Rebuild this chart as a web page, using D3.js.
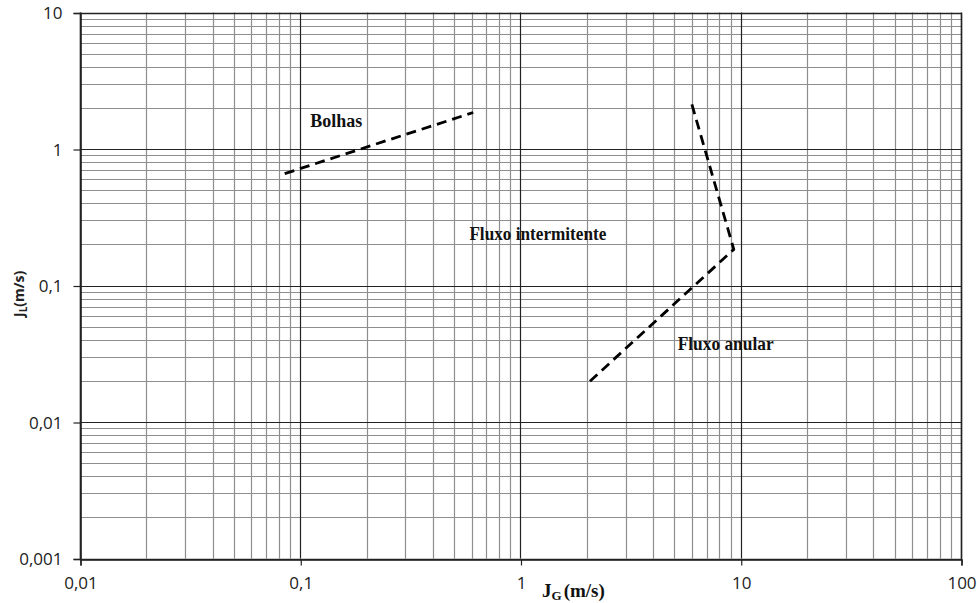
<!DOCTYPE html>
<html>
<head>
<meta charset="utf-8">
<script src="https://cdn.jsdelivr.net/npm/d3@7"></script>
<style>
  body { margin: 0; background: #fff; }
  .tick-label { font-family: "Open Sans", sans-serif; font-size: 17px; fill: #222; }
  .region { font-family: "Liberation Serif", serif; font-weight: bold; font-size: 18px; fill: #111; }
</style>
</head>
<body>
<div id="main-frame"></div>
<script>
const xTicks = [0.01, 0.1, 1, 10, 100];
const xTickLabels = ["0,01", "0,1", "1", "10", "100"];
const yTicks = [0.001, 0.01, 0.1, 1, 10];
const yTickLabels = ["0,001", "0,01", "0,1", "1", "10"];

// fronteira bolhas / intermitente
const bolhasJG = [0.085, 0.61];
const bolhasJL = [0.66, 1.85];

// fronteira intermitente / anular
const anularJG = [6.0, 9.3, 2.04];
const anularJL = [2.12, 0.184, 0.0195];

const regionNames = ["Bolhas", "Fluxo intermitente", "Fluxo anular"];
const regionJG = [0.111, 0.586, 5.17];
const regionJL = [1.44, 0.216, 0.0337];
const regionWidths = [52, 137, 96];

const width = 977;
const height = 603;

const svg = d3
  .select("#main-frame")
  .append("svg")
  .attr("width", width)
  .attr("height", height);

const x = d3.scaleLog().domain([0.01, 100]).range([80, 961]);
const y = d3.scaleLog().domain([0.001, 10]).range([558.5, 12.5]);

// linhas de grade menores (2..9 em cada década)
const minorX = [];
const minorY = [];
for (let e = -2; e < 2; e++) {
  for (let k = 2; k <= 9; k++) minorX.push(k * Math.pow(10, e));
}
for (let e = -3; e < 1; e++) {
  for (let k = 2; k <= 9; k++) minorY.push(k * Math.pow(10, e));
}

const grid = svg.append("g").attr("class", "grid");

grid
  .selectAll(".vminor")
  .data(minorX)
  .enter()
  .append("line")
  .attr("x1", (d) => Math.round(x(d)) + 0.5)
  .attr("x2", (d) => Math.round(x(d)) + 0.5)
  .attr("y1", y(10))
  .attr("y2", y(0.001))
  .attr("stroke", "#8e8e8e")
  .attr("stroke-width", 1.2);

grid
  .selectAll(".hminor")
  .data(minorY)
  .enter()
  .append("line")
  .attr("x1", x(0.01))
  .attr("x2", x(100))
  .attr("y1", (d) => Math.round(y(d)) + 0.5)
  .attr("y2", (d) => Math.round(y(d)) + 0.5)
  .attr("stroke", "#8e8e8e")
  .attr("stroke-width", 1.2);

grid
  .selectAll(".vmajor")
  .data(xTicks)
  .enter()
  .append("line")
  .attr("x1", (d) => Math.round(x(d)) + 0.5)
  .attr("x2", (d) => Math.round(x(d)) + 0.5)
  .attr("y1", y(10))
  .attr("y2", y(0.001))
  .attr("stroke", "#222")
  .attr("stroke-width", 1.2);

grid
  .selectAll(".hmajor")
  .data(yTicks)
  .enter()
  .append("line")
  .attr("x1", x(0.01))
  .attr("x2", x(100))
  .attr("y1", (d) => Math.round(y(d)) + 0.5)
  .attr("y2", (d) => Math.round(y(d)) + 0.5)
  .attr("stroke", "#222")
  .attr("stroke-width", 1.2);

// eixos
const xAxis = d3
  .axisBottom(x)
  .tickValues(xTicks)
  .tickFormat((d, i) => xTickLabels[i])
  .tickSize(6)
  .tickPadding(10);

const yAxis = d3
  .axisLeft(y)
  .tickValues(yTicks)
  .tickFormat((d, i) => yTickLabels[i])
  .tickSize(7)
  .tickPadding(11);

const gx = svg
  .append("g")
  .attr("transform", `translate(0.5, ${Math.round(y(0.001)) + 0.5})`)
  .call(xAxis);

const gy = svg
  .append("g")
  .attr("transform", `translate(${Math.round(x(0.01)) + 0.5}, 0.5)`)
  .call(yAxis);

[gx, gy].forEach((g) => {
  g.select(".domain").attr("stroke", "#222").attr("stroke-width", 1.5);
  g.selectAll(".tick line").attr("stroke", "#222").attr("stroke-width", 1.2);
  g.selectAll(".tick text")
    .attr("class", "tick-label")
    .attr("fill", null);
});
gx.selectAll(".tick text").attr("dy", "0.8em");
gy.selectAll(".tick text").attr("dy", "0.35em");

// borda superior e direita
svg
  .append("rect")
  .attr("x", Math.round(x(0.01)) + 0.5)
  .attr("y", Math.round(y(10)) + 0.5)
  .attr("width", Math.round(x(100)) - Math.round(x(0.01)))
  .attr("height", Math.round(y(0.001)) - Math.round(y(10)))
  .attr("fill", "none")
  .attr("stroke", "#222")
  .attr("stroke-width", 1.5);

// fronteiras tracejadas
const line = d3
  .line()
  .x((d) => x(d[0]))
  .y((d) => y(d[1]));

[d3.zip(bolhasJG, bolhasJL), d3.zip(anularJG, anularJL)].forEach((pts) => {
  svg
    .append("path")
    .datum(pts)
    .attr("d", line)
    .attr("fill", "none")
    .attr("stroke", "#000")
    .attr("stroke-width", 2.8)
    .attr("stroke-dasharray", "10,6")
    .attr("stroke-linejoin", "round");
});

// nomes das regiões
svg
  .selectAll(".region")
  .data(regionNames)
  .enter()
  .append("text")
  .attr("class", "region")
  .attr("x", (d, i) => x(regionJG[i]))
  .attr("y", (d, i) => y(regionJL[i]))
  .attr("textLength", (d, i) => regionWidths[i])
  .attr("lengthAdjust", "spacingAndGlyphs")
  .text((d) => d);

// títulos dos eixos
const xTitle = svg
  .append("text")
  .attr("x", 542)
  .attr("y", 597)
  .attr("font-family", "Liberation Serif, serif")
  .attr("font-weight", "bold")
  .attr("font-size", "19px")
  .attr("fill", "#111");
xTitle.append("tspan").text("J");
xTitle.append("tspan").attr("dy", 3).attr("font-size", "13px").text("G");
xTitle.append("tspan").attr("dy", -3).attr("dx", 2).text("(m/s)");

const yTitle = svg
  .append("text")
  .attr("transform", "translate(24, 317) rotate(-90)")
  .attr("font-family", "Open Sans, sans-serif")
  .attr("font-weight", "bold")
  .attr("font-size", "14px")
  .attr("fill", "#222");
yTitle.append("tspan").text("J");
yTitle.append("tspan").attr("dy", 3).attr("font-size", "10px").text("L");
yTitle.append("tspan").attr("dy", -3).text("(m/s)");
</script>
</body>
</html>
